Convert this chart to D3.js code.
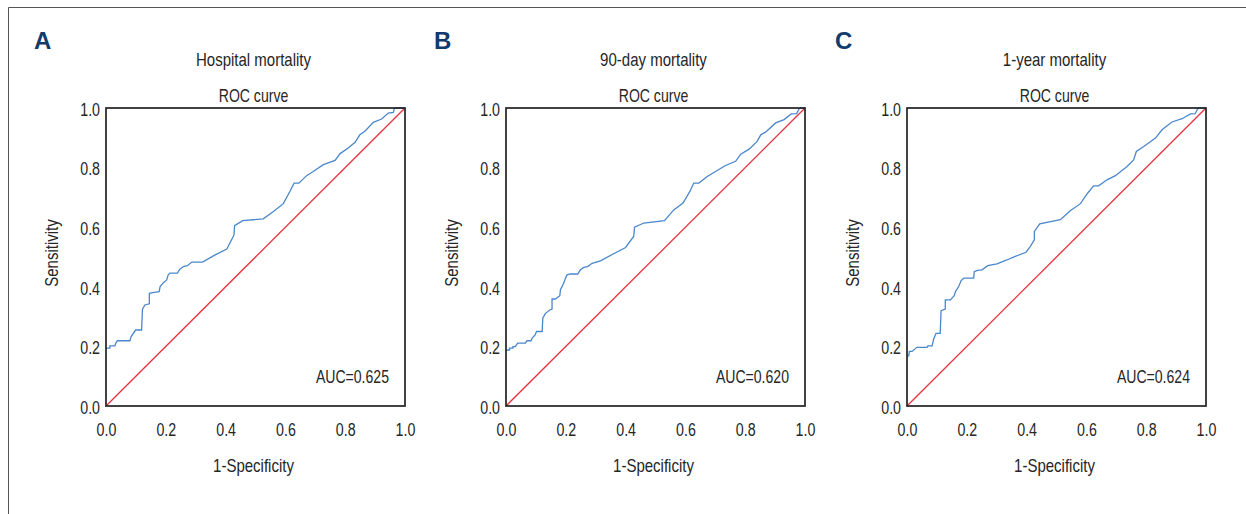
<!DOCTYPE html>
<html lang="en">
  <head>
    <meta charset="UTF-8" />
    <title>ROC curves</title>
    <script src="https://d3js.org/d3.v7.min.js"></script>
    <style>
      body {
        margin: 0;
        background: #fff;
      }
      text {
        font-family: "Liberation Sans", Arial, sans-serif;
        fill: #262626;
      }
      .letter {
        font-weight: bold;
        font-size: 24px;
        fill: #123a6b;
      }
      .frame {
        fill: none;
        stroke: #222;
        stroke-width: 1.7px;
      }
      .roc {
        fill: none;
        stroke: #4a87cb;
        stroke-width: 1.3px;
      }
      .diag {
        stroke: #e8313f;
        stroke-width: 1.3px;
      }
    </style>
  </head>
  <body>
    <svg id="chart" width="1246" height="514"></svg>
    <script>
      // panel labels / titles
      const letters = ["A", "B", "C"];
      const titles = ["Hospital mortality", "90-day mortality", "1-year mortality"];
      const aucLabels = ["AUC=0.625", "AUC=0.620", "AUC=0.624"];
      const tickValues = [0, 0.2, 0.4, 0.6, 0.8, 1.0];

      // ROC points: [1-specificity, sensitivity]
      const rocHospital = [
        [0, 0.194], [0.013, 0.194], [0.013, 0.202], [0.03, 0.202], [0.033, 0.211],
        [0.038, 0.219], [0.08, 0.219], [0.084, 0.233], [0.099, 0.255], [0.119, 0.255],
        [0.122, 0.325], [0.13, 0.339], [0.145, 0.343], [0.145, 0.378], [0.161, 0.381],
        [0.178, 0.384], [0.181, 0.401], [0.192, 0.414], [0.203, 0.423], [0.208, 0.44],
        [0.214, 0.446], [0.239, 0.446], [0.247, 0.459], [0.259, 0.468], [0.272, 0.471],
        [0.287, 0.483], [0.323, 0.483], [0.365, 0.507], [0.404, 0.527], [0.42, 0.558],
        [0.428, 0.574], [0.43, 0.605], [0.457, 0.622], [0.526, 0.628], [0.56, 0.653],
        [0.593, 0.679], [0.615, 0.72], [0.629, 0.748], [0.645, 0.748], [0.671, 0.773],
        [0.693, 0.787], [0.727, 0.81], [0.766, 0.824], [0.783, 0.847], [0.81, 0.866],
        [0.833, 0.885], [0.849, 0.91], [0.866, 0.922], [0.894, 0.952], [0.922, 0.963],
        [0.944, 0.983], [0.961, 0.985], [0.964, 0.997], [0.97, 1], [1, 1]
      ];
      const roc90day = [
        [0, 0.188], [0.012, 0.188], [0.012, 0.194], [0.023, 0.194], [0.023, 0.199],
        [0.031, 0.199], [0.039, 0.211], [0.065, 0.211], [0.07, 0.219], [0.084, 0.219],
        [0.087, 0.227], [0.098, 0.239], [0.102, 0.25], [0.121, 0.25], [0.123, 0.295],
        [0.132, 0.311], [0.148, 0.323], [0.154, 0.325], [0.154, 0.359], [0.165, 0.359],
        [0.18, 0.37], [0.182, 0.39], [0.193, 0.412], [0.199, 0.429], [0.204, 0.44],
        [0.215, 0.443], [0.24, 0.443], [0.249, 0.457], [0.26, 0.465], [0.273, 0.468],
        [0.288, 0.479], [0.316, 0.487], [0.36, 0.511], [0.4, 0.532], [0.427, 0.569],
        [0.43, 0.6], [0.461, 0.614], [0.53, 0.622], [0.561, 0.658], [0.592, 0.681],
        [0.615, 0.72], [0.628, 0.748], [0.645, 0.748], [0.673, 0.77], [0.701, 0.787],
        [0.734, 0.807], [0.768, 0.821], [0.785, 0.845], [0.813, 0.862], [0.84, 0.888],
        [0.852, 0.91], [0.868, 0.919], [0.902, 0.95], [0.93, 0.961], [0.954, 0.98],
        [0.972, 0.981], [0.98, 0.997], [0.986, 1], [1, 1]
      ];
      const roc1year = [
        [0, 0.168], [0.006, 0.168], [0.008, 0.183], [0.017, 0.183], [0.025, 0.19],
        [0.033, 0.197], [0.067, 0.197], [0.07, 0.202], [0.084, 0.202], [0.089, 0.224],
        [0.097, 0.244], [0.111, 0.244], [0.114, 0.32], [0.128, 0.325], [0.128, 0.356],
        [0.145, 0.356], [0.158, 0.37], [0.162, 0.384], [0.173, 0.401], [0.181, 0.421],
        [0.19, 0.429], [0.223, 0.429], [0.225, 0.451], [0.236, 0.455], [0.251, 0.457],
        [0.27, 0.471], [0.301, 0.477], [0.334, 0.49], [0.362, 0.502], [0.398, 0.516],
        [0.412, 0.535], [0.426, 0.558], [0.426, 0.586], [0.444, 0.611], [0.513, 0.625],
        [0.546, 0.655], [0.58, 0.679], [0.604, 0.714], [0.624, 0.739], [0.641, 0.739],
        [0.669, 0.759], [0.697, 0.773], [0.736, 0.804], [0.758, 0.826], [0.767, 0.854],
        [0.792, 0.871], [0.831, 0.899], [0.853, 0.927], [0.886, 0.953], [0.92, 0.964],
        [0.948, 0.98], [0.964, 0.981], [0.97, 0.994], [0.975, 1], [1, 1]
      ];
      const curves = [rocHospital, roc90day, roc1year];

      const svg = d3.select("#chart");
      const width = +svg.attr("width");
      const height = +svg.attr("height");

      // no narrow font installed, so squeeze regular text to a condensed width
      function condense(sel, k) {
        sel.each(function () {
          const len = this.getComputedTextLength();
          d3.select(this)
            .attr("textLength", len * k)
            .attr("lengthAdjust", "spacingAndGlyphs");
        });
      }

      // thin outer frame (top + left only)
      svg.append("path")
        .attr("d", `M8.5,${height} V7.5 H${width}`)
        .attr("fill", "none")
        .attr("stroke", "#555")
        .attr("stroke-width", 1);

      const plotW = 299, plotH = 298, plotTop = 108;
      const plotLefts = [106, 506, 907];

      const x = d3.scaleLinear().domain([0, 1]).range([0, plotW]);
      const y = d3.scaleLinear().domain([0, 1]).range([plotH, 0]);
      const line = d3.line().x(d => x(d[0])).y(d => y(d[1]));

      plotLefts.forEach((left, i) => {
        const g = svg.append("g")
          .attr("transform", "translate(" + left + "," + plotTop + ")");

        svg.append("text")
          .attr("class", "letter")
          .attr("x", left - 72)
          .attr("y", 49)
          .text(letters[i]);

        g.append("text")
          .attr("class", "cond")
          .attr("x", plotW / 2 - 2)
          .attr("y", -42)
          .attr("text-anchor", "middle")
          .style("font-size", "19px")
          .text(titles[i]);

        g.append("text")
          .attr("class", "cond-caps")
          .attr("x", plotW / 2 - 2)
          .attr("y", -6)
          .attr("text-anchor", "middle")
          .style("font-size", "19px")
          .text("ROC curve");

        // axes: labels only, no tick marks
        const xAxis = g.append("g")
          .attr("transform", "translate(0," + plotH + ")")
          .call(d3.axisBottom(x).tickValues(tickValues).tickFormat(d3.format(".1f")).tickSize(0).tickPadding(17));
        const yAxis = g.append("g")
          .call(d3.axisLeft(y).tickValues(tickValues).tickFormat(d3.format(".1f")).tickSize(0).tickPadding(6));
        [xAxis, yAxis].forEach(a => {
          a.attr("font-family", null);
          a.select(".domain").remove();
          a.selectAll("text")
            .attr("class", "cond")
            .style("font-size", "18px")
            .attr("fill", "#262626");
        });
        yAxis.selectAll("text").attr("dy", "0.4em");

        g.append("text")
          .attr("class", "cond")
          .attr("x", plotW / 2 - 2)
          .attr("y", plotH + 66)
          .attr("text-anchor", "middle")
          .style("font-size", "19px")
          .text("1-Specificity");

        g.append("text")
          .attr("class", "cond")
          .attr("transform", "translate(-48," + (plotH / 2 - 4) + ") rotate(-90)")
          .attr("text-anchor", "middle")
          .style("font-size", "19px")
          .text("Sensitivity");

        g.append("line")
          .attr("class", "diag")
          .attr("x1", x(0)).attr("y1", y(0))
          .attr("x2", x(1)).attr("y2", y(1));

        g.append("path")
          .datum(curves[i])
          .attr("class", "roc")
          .attr("d", line);

        g.append("rect")
          .attr("class", "frame")
          .attr("width", plotW)
          .attr("height", plotH);

        g.append("text")
          .attr("class", "cond-caps")
          .attr("x", plotW - 16)
          .attr("y", plotH - 23)
          .attr("text-anchor", "end")
          .style("font-size", "19px")
          .text(aucLabels[i]);
      });

      condense(svg.selectAll("text.cond"), 0.79);
      condense(svg.selectAll("text.cond-caps"), 0.74);
    </script>
  </body>
</html>
